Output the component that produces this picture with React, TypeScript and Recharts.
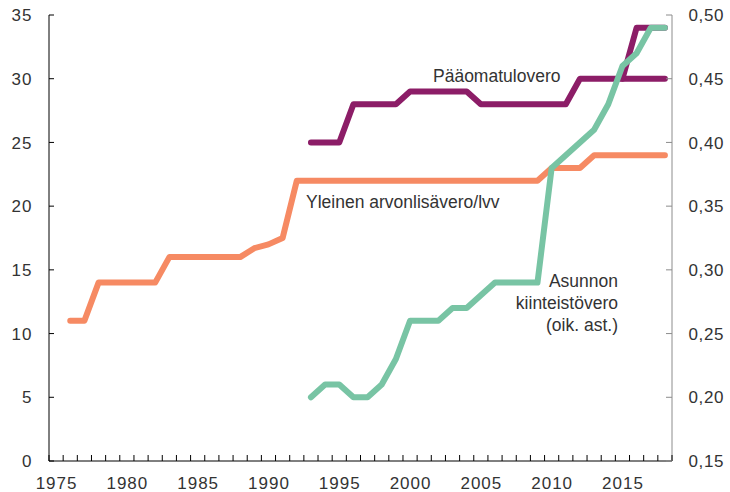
import { LineChart, Line, XAxis, YAxis } from "recharts"

// vuodet 1975–2018
const years = [
  1975, 1976, 1977, 1978, 1979, 1980, 1981, 1982, 1983, 1984, 1985, 1986, 1987, 1988, 1989,
  1990, 1991, 1992, 1993, 1994, 1995, 1996, 1997, 1998, 1999, 2000, 2001, 2002, 2003, 2004,
  2005, 2006, 2007, 2008, 2009, 2010, 2011, 2012, 2013, 2014, 2015, 2016, 2017, 2018,
]

// Yleinen arvonlisävero/lvv, %
const arvonlisavero = [
  null, 11, 11, 14, 14, 14, 14, 14, 16, 16, 16, 16, 16, 16, 16.7,
  17, 17.5, 22, 22, 22, 22, 22, 22, 22, 22, 22, 22, 22, 22, 22,
  22, 22, 22, 22, 22, 23, 23, 23, 24, 24, 24, 24, 24, 24,
]

// Pääomatulovero, %
const paaomatulovero = [
  null, null, null, null, null, null, null, null, null, null, null, null, null, null, null,
  null, null, null, 25, 25, 25, 28, 28, 28, 28, 29, 29, 29, 29, 29,
  28, 28, 28, 28, 28, 28, 28, 30, 30, 30, 30, 30, 30, 30,
]

// Pääomatulovero, ylempi kanta
const paaomatuloveroYlempi = [
  null, null, null, null, null, null, null, null, null, null, null, null, null, null, null,
  null, null, null, null, null, null, null, null, null, null, null, null, null, null, null,
  null, null, null, null, null, null, null, null, null, null, 30, 34, 34, 34,
]

// Asunnon kiinteistövero (oik. ast.)
const kiinteistovero = [
  null, null, null, null, null, null, null, null, null, null, null, null, null, null, null,
  null, null, null, 0.2, 0.21, 0.21, 0.2, 0.2, 0.21, 0.23, 0.26, 0.26, 0.26, 0.27, 0.27,
  0.28, 0.29, 0.29, 0.29, 0.29, 0.38, 0.39, 0.4, 0.41, 0.43, 0.46, 0.47, 0.49, 0.49,
]

const leftTicks = [0, 5, 10, 15, 20, 25, 30, 35]
const rightTicks = [0.15, 0.2, 0.25, 0.3, 0.35, 0.4, 0.45, 0.5]
const yearLabels = [1975, 1980, 1985, 1990, 1995, 2000, 2005, 2010, 2015]
const yearBounds = [...years.map((y) => y - 0.5), 2018.5]

const rows = years.map((year, i) => ({
  year,
  alv: arvonlisavero[i],
  pao: paaomatulovero[i],
  paoYl: paaomatuloveroYlempi[i],
  kiint: kiinteistovero[i],
}))

const FONT = "'Liberation Sans', Arial, sans-serif"
const TEXT = "#333333"
const ORANGE = "#f68a63"
const PURPLE = "#8c1d67"
const GREEN = "#78c4a4"

const XTick = (props: any) => {
  const { x, y, payload } = props
  const v = payload.value
  if (Number.isInteger(v)) {
    return (
      <text x={x + 0.5} y={y + 27.5} textAnchor="middle" fontSize={17} letterSpacing={1}
        fill={TEXT} fontFamily={FONT}>
        {v}
      </text>
    )
  }
  return <line x1={x} x2={x} y1={y - 6} y2={y} stroke="#000" strokeWidth={1} />
}

const LeftTick = (props: any) => {
  const { x, y, payload } = props
  return (
    <g>
      <line x1={x} x2={x + 5} y1={y} y2={y} stroke="#000" strokeWidth={1} />
      <text x={x - 16.5} y={y} dy="0.36em" textAnchor="end" fontSize={17} letterSpacing={1}
        fill={TEXT} fontFamily={FONT}>
        {payload.value}
      </text>
    </g>
  )
}

const RightTick = (props: any) => {
  const { x, y, payload } = props
  return (
    <g>
      <line x1={x - 6} x2={x} y1={y} y2={y} stroke="#8c8c8c" strokeWidth={1} />
      <text x={x + 16.5} y={y} dy="0.36em" textAnchor="start" fontSize={17} letterSpacing={0.6}
        fill={TEXT} fontFamily={FONT}>
        {Number(payload.value).toFixed(2).replace(".", ",")}
      </text>
    </g>
  )
}

export default function App() {
  return (
    <div style={{ position: "absolute", left: 0, top: 0, width: 730, height: 492, background: "#fff" }}>
      <LineChart width={730} height={492} data={rows} margin={{ top: 15, right: 0, bottom: 0, left: 0 }}>
        <XAxis
          type="number"
          dataKey="year"
          domain={[1974.5, 2018.5]}
          ticks={[...yearBounds, ...yearLabels]}
          interval={0}
          allowDecimals
          height={31}
          tickSize={0}
          tickMargin={0}
          tickLine={false}
          axisLine={{ stroke: "#000", strokeWidth: 1 }}
          tick={<XTick />}
        />
        <YAxis
          yAxisId="left"
          domain={[0, 35]}
          ticks={leftTicks}
          interval={0}
          width={49}
          tickSize={0}
          tickMargin={0}
          tickLine={false}
          axisLine={{ stroke: "#000", strokeWidth: 1 }}
          tick={<LeftTick />}
        />
        <YAxis
          yAxisId="right"
          orientation="right"
          domain={[0.15, 0.5]}
          ticks={rightTicks}
          interval={0}
          width={58}
          tickSize={0}
          tickMargin={0}
          tickLine={false}
          axisLine={{ stroke: "#8c8c8c", strokeWidth: 1 }}
          tick={<RightTick />}
        />
        <Line yAxisId="left" type="linear" dataKey="alv" stroke={ORANGE} strokeWidth={6} dot={false}
          strokeLinecap="round" strokeLinejoin="round" isAnimationActive={false} />
        <Line yAxisId="left" type="linear" dataKey="pao" stroke={PURPLE} strokeWidth={6} dot={false}
          strokeLinecap="round" strokeLinejoin="round" isAnimationActive={false} />
        <Line yAxisId="left" type="linear" dataKey="paoYl" stroke={PURPLE} strokeWidth={6} dot={false}
          strokeLinecap="round" strokeLinejoin="round" isAnimationActive={false} />
        <Line yAxisId="right" type="linear" dataKey="kiint" stroke={GREEN} strokeWidth={6} dot={false}
          strokeLinecap="round" strokeLinejoin="round" isAnimationActive={false} />
        <text x={433} y={81.5} fontSize={17.5} fill={TEXT} fontFamily={FONT}>Pääomatulovero</text>
        <text x={306} y={208} fontSize={17.5} fill={TEXT} fontFamily={FONT}>Yleinen arvonlisävero/lvv</text>
        <text x={618} y={286.5} textAnchor="end" fontSize={17.5} fill={TEXT} fontFamily={FONT}>Asunnon</text>
        <text x={618} y={309.3} textAnchor="end" fontSize={17.5} fill={TEXT} fontFamily={FONT}>kiinteistövero</text>
        <text x={618} y={331} textAnchor="end" fontSize={17.5} fill={TEXT} fontFamily={FONT}>(oik. ast.)</text>
      </LineChart>
    </div>
  )
}
